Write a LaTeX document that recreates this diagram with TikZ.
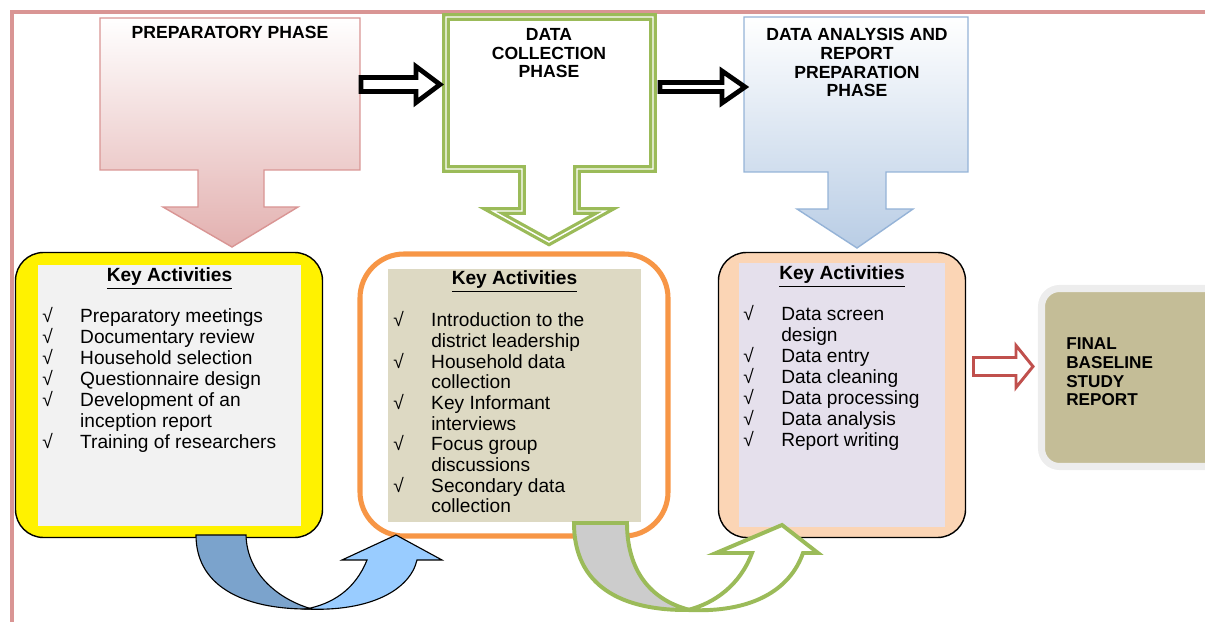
\documentclass[tikz,border=0pt]{standalone}
\usepackage{fontspec}
\setmainfont{Liberation Sans}
\usetikzlibrary{calc}

\definecolor{framepink}{HTML}{D99594}
\definecolor{pinkdark}{HTML}{E3B1B0}
\definecolor{bluebord}{HTML}{95B3D7}
\definecolor{bluedark}{HTML}{B9CDE5}
\definecolor{phgreen}{HTML}{9BBB59}
\definecolor{phorange}{HTML}{F79646}
\definecolor{innergray}{HTML}{F2F2F2}
\definecolor{innertan}{HTML}{DDD9C3}
\definecolor{peach}{HTML}{FBD5B5}
\definecolor{lavender}{HTML}{E5E0EC}
\definecolor{finaltan}{HTML}{C4BD97}
\definecolor{uturndark}{HTML}{7BA3CC}
\definecolor{uturnlight}{HTML}{99CCFF}
\definecolor{redarr}{HTML}{C0504D}

\tikzset{
  phasetxt/.style={font=\fontsize{12.5}{13.5}\selectfont\bfseries, align=center, anchor=base, inner sep=0pt},
  keyhead/.style={font=\fontsize{13.6}{15}\selectfont\bfseries, anchor=base, inner sep=0pt},
  keylist/.style={font=\fontsize{13.6}{14.9}\selectfont, align=left, anchor=base west, inner sep=0pt},
  fatarr/.style={draw=black, line width=3.4pt, fill=white},
  uturn/.style={draw=black, line width=0.8pt},
}

% block arrow: style, start, shaft length, head length, shaft half, head half
\newcommand\fatarrow[6]{\draw[#1] (#2) ++(0,-#5) -- ++(#3,0) -- ++(0,#5-#6)
  -- ++(#4,#6) -- ++(-#4,#6) -- ++(0,#5-#6) -- ++(-#3,0) -- cycle;}
\newcommand\chk{\makebox[27pt][l]{√}}
\newcommand\cnt{\hspace*{27pt}}
\newcommand\keyact{\underline{Key Activities}}

\begin{document}
\begin{tikzpicture}[x=0.025cm, y=-0.025cm]
\useasboundingbox (0,0) rectangle (1205,622);
\clip (0,0) rectangle (1205,622);

% outer frame
\draw[framepink, line width=3pt] (12,640) -- (12,12) -- (1220,12);

% phase boxes
\draw[draw=framepink, line width=1pt, top color=white, bottom color=pinkdark]
  (100,18) -- (360,18) -- (360,170) -- (264,170) -- (264,207) -- (298,207)
  -- (232,247) -- (163,207) -- (198,207) -- (198,170) -- (100,170) -- cycle;
\draw[draw=phgreen, double=white, double distance=1pt, line width=2.3pt, fill=white]
  (446,17) -- (653,17) -- (653,169) -- (577,169) -- (577,211) -- (605,211)
  -- (549,242) -- (493,211) -- (522,211) -- (522,169) -- (446,169) -- cycle;
\draw[draw=bluebord, line width=1pt, top color=white, bottom color=bluedark]
  (744,17) -- (968,17) -- (968,172) -- (886,172) -- (886,209) -- (913,209)
  -- (857,248) -- (797,209) -- (828,209) -- (828,172) -- (744,172) -- cycle;

% base anchor of a multi-line node sits on its last line
\node[phasetxt] (prep) at (230,39) {PREPARATORY PHASE};
\node[phasetxt] (coll) at (549,78) {DATA\\COLLECTION\\PHASE};
\node[phasetxt] (anal) at (857,97) {DATA ANALYSIS AND\\REPORT\\PREPARATION\\PHASE};

% arrows between phases
\coordinate (a1) at (361,84.5);
\coordinate (a2) at (660,87);
\fatarrow{fatarr}{a1}{55}{24}{7}{18}
\fatarrow{fatarr}{a2}{62}{23}{4.5}{16}

% key activity boxes
\draw[fill=yellow, line width=1pt, rounded corners=0.7cm] (15.5,252.5) rectangle (322.5,537.5);
\fill[innergray] (38,265) rectangle (301,526);
\draw[phorange, fill=white, line width=3.6pt, rounded corners=1.1cm] (360,254) rectangle (668,536);
\fill[innertan] (388,269) rectangle (641,522);
\draw[fill=peach, line width=1pt, rounded corners=0.7cm] (718.5,252.5) rectangle (965.5,537.5);
\fill[lavender] (739,263) rectangle (945,527);

\node[keyhead] (hd1) at (169.5,282) {\keyact};
\node[keyhead] (hd2) at (514.5,285) {\keyact};
\node[keyhead] (hd3) at (842,280) {\keyact};

\node[keylist] (list1) at (42,448.5) {\chk Preparatory meetings\\ \chk Documentary review\\
  \chk Household selection\\ \chk Questionnaire design\\ \chk Development of an\\
  \cnt inception report\\ \chk Training of researchers};
\node[keylist, font=\fontsize{13.6}{14.7}\selectfont] (list2) at (393,513) {\chk Introduction to the\\ \cnt district leadership\\
  \chk Household data\\ \cnt collection\\ \chk Key Informant\\ \cnt interviews\\
  \chk Focus group\\ \cnt discussions\\ \chk Secondary data\\ \cnt collection};
\node[keylist] (list3) at (743,446.5) {\chk Data screen\\ \cnt design\\ \chk Data entry\\
  \chk Data cleaning\\ \chk Data processing\\ \chk Data analysis\\ \chk Report writing};

% u-turn arrows under the boxes
\draw[uturn, fill=uturndark] (196,535) .. controls (196,590) and (250,610) .. (312,609)
  .. controls (280,600) and (247,575) .. (246,535) -- cycle;
\draw[uturn, fill=uturnlight] (306,609) .. controls (370,612) and (410,590) .. (417,560)
  -- (442,560) -- (396,535) -- (342,560) -- (367,560)
  .. controls (355,590) and (332,604) .. (306,609) -- cycle;
\draw[phgreen, line width=2.8pt, fill=black!20] (574,523) .. controls (574,585) and (620,611) .. (690,610)
  .. controls (650,600) and (627,570) .. (627,523) -- cycle;
\draw[phgreen, line width=2.8pt, fill=white] (688,610) .. controls (752,613) and (790,590) .. (803,553)
  -- (818,553) -- (782,525) -- (716,553) -- (752,553)
  .. controls (740,585) and (715,603) .. (688,610) -- cycle;

% final report
\coordinate (a3) at (973.5,366.5);
\fatarrow{fatarr, draw=redarr, line width=2.1pt}{a3}{42.5}{17}{9}{21}
\draw[draw=black!7, line width=5pt, fill=finaltan, rounded corners=0.45cm] (1041.5,288.5) rectangle (1240,466.5);
\node[font=\fontsize{12.2}{13.3}\selectfont\bfseries, align=left, anchor=base west, inner sep=0pt]
  (final) at (1066,406) {FINAL\\BASELINE\\STUDY\\REPORT};
\end{tikzpicture}
\end{document}
